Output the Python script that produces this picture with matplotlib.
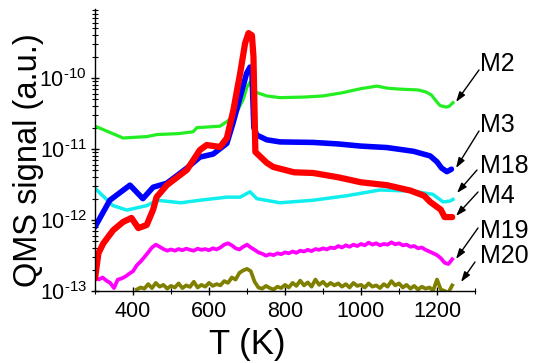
import matplotlib
matplotlib.use("Agg")
import matplotlib.pyplot as plt
from matplotlib.ticker import MultipleLocator, LogLocator, FixedLocator, FuncFormatter
import math

plt.rcParams['font.family'] = ['Liberation Sans', 'DejaVu Sans']
plt.rcParams['mathtext.fontset'] = 'custom'
plt.rcParams['mathtext.rm'] = 'Liberation Sans'
plt.rcParams['mathtext.it'] = 'Liberation Sans:italic'
plt.rcParams['mathtext.bf'] = 'Liberation Sans:bold'

# ---------------- data ----------------
T_m2 = [300, 330, 374, 437, 463, 520, 558, 568, 629, 650, 673, 690, 700, 708, 716, 752, 787,
        850, 900, 950, 1000, 1042, 1070, 1100, 1150, 1170, 1185, 1197, 1208, 1224, 1232, 1242]
m2 = [2.1e-11, 1.8e-11, 1.43e-11, 1.5e-11, 1.6e-11, 1.65e-11, 1.75e-11, 2.0e-11, 2.1e-11, 2.5e-11,
      3.3e-11, 5.0e-11, 7.5e-11, 8.8e-11, 6.5e-11, 5.6e-11, 5.3e-11,
      5.4e-11, 5.6e-11, 6.2e-11, 7.1e-11, 7.7e-11, 7.2e-11, 7.0e-11, 6.8e-11, 6.4e-11, 5.8e-11,
      4.8e-11, 4.1e-11, 3.9e-11, 4.0e-11, 4.5e-11]

T_m3 = [300, 339, 392, 426, 453, 489, 542, 576, 611, 647, 663, 682, 699, 708, 713, 718, 726, 752,
        787, 874, 940, 1000, 1068, 1138, 1182, 1200, 1212, 1226, 1238]
m3 = [8.0e-13, 1.9e-12, 3.1e-12, 2.0e-12, 2.9e-12, 3.3e-12, 5.4e-12, 7.7e-12, 8.5e-12, 1.2e-11,
      2.3e-11, 5.4e-11, 1.17e-10, 1.43e-10, 1.2e-10, 2.0e-11, 1.57e-11, 1.35e-11,
      1.26e-11, 1.24e-11, 1.18e-11, 1.1e-11, 1.05e-11, 9.3e-12, 8.0e-12, 6.6e-12, 5.4e-12, 4.8e-12, 5.2e-12]

T_m4 = [300, 309, 322, 348, 374, 396, 414, 436, 453, 462, 489, 542, 576, 594, 629, 647, 664, 682,
        695, 704, 713, 717, 722, 752, 769, 824, 874, 940, 1000, 1068, 1130, 1166, 1182, 1210, 1220, 1240]
m4 = [1.5e-13, 3.4e-13, 4.7e-13, 7.2e-13, 9.4e-13, 1.07e-12, 7.7e-13, 8.5e-13, 1.4e-12, 2.1e-12,
      3.1e-12, 5.1e-12, 9.7e-12, 1.14e-11, 1.07e-11, 1.43e-11, 3.5e-11, 1.17e-10,
      3.1e-10, 4.3e-10, 4.0e-10, 2.0e-10, 9.1e-12, 6.4e-12, 5.6e-12, 4.7e-12, 4.6e-12, 4.0e-12,
      3.4e-12, 3.1e-12, 2.6e-12, 2.2e-12, 1.8e-12, 1.4e-12, 1.1e-12, 1.1e-12]

T_m18 = [300, 347, 384, 437, 463, 526, 576, 647, 682, 708, 726, 787, 874, 963, 1050, 1137, 1189,
         1216, 1234, 1242]
m18 = [2.8e-12, 1.6e-12, 1.38e-12, 1.6e-12, 1.9e-12, 1.75e-12, 1.9e-12, 2.1e-12, 2.1e-12, 2.5e-12,
       2.0e-12, 1.75e-12, 1.9e-12, 2.2e-12, 2.65e-12, 2.55e-12, 2.3e-12, 1.8e-12, 1.85e-12, 1.95e-12]

T_m19 = [300, 310, 320, 330, 340, 350, 360, 370, 380, 390, 400, 410, 420, 430, 440, 450, 460, 470,
         480, 490, 500, 510, 520, 530, 540, 550, 560, 570, 580, 590, 600, 610, 620, 630, 640, 650,
         660, 670, 680, 690, 700, 710, 720, 730, 740, 750, 760, 770, 780, 790, 800, 810, 820, 830,
         840, 850, 860, 870, 880, 890, 900, 910, 920, 930, 940, 950, 960, 970, 980, 990, 1000, 1010,
         1020, 1030, 1040, 1050, 1060, 1070, 1080, 1090, 1100, 1110, 1120, 1130, 1140, 1150, 1160,
         1170, 1180, 1190, 1200, 1210, 1220, 1230, 1240]
m19 = [1.60e-13, 1.45e-13, 1.55e-13, 1.40e-13, 1.30e-13, 1.10e-13, 1.45e-13, 1.50e-13, 1.60e-13,
       1.75e-13, 1.90e-13, 2.30e-13, 2.60e-13, 3.00e-13, 3.50e-13, 4.10e-13, 4.50e-13, 4.20e-13,
       3.90e-13, 3.70e-13, 3.85e-13, 3.70e-13, 3.90e-13, 3.75e-13, 3.95e-13, 3.80e-13, 3.70e-13,
       3.95e-13, 3.80e-13, 3.90e-13, 3.75e-13, 4.00e-13, 3.85e-13, 4.10e-13, 4.50e-13, 4.70e-13,
       4.40e-13, 4.00e-13, 3.85e-13, 4.20e-13, 4.50e-13, 4.10e-13, 3.80e-13, 3.50e-13, 3.35e-13,
       3.15e-13, 3.30e-13, 3.20e-13, 3.40e-13, 3.30e-13, 3.50e-13, 3.40e-13, 3.60e-13, 3.45e-13,
       3.70e-13, 3.60e-13, 3.80e-13, 3.65e-13, 3.90e-13, 3.80e-13, 4.00e-13, 3.85e-13, 4.10e-13,
       4.00e-13, 4.30e-13, 4.10e-13, 4.40e-13, 4.20e-13, 4.50e-13, 4.30e-13, 4.60e-13, 4.40e-13,
       4.80e-13, 4.50e-13, 4.70e-13, 4.40e-13, 4.60e-13, 4.50e-13, 4.85e-13, 4.55e-13, 4.70e-13,
       4.40e-13, 4.50e-13, 4.20e-13, 4.30e-13, 4.00e-13, 4.10e-13, 3.80e-13, 3.60e-13, 3.40e-13,
       3.20e-13, 2.90e-13, 2.50e-13, 2.40e-13, 2.80e-13]

T_m20 = [410, 420, 430, 440, 450, 460, 470, 480, 490, 500, 510, 520, 530, 540, 550, 560, 570, 580,
         590, 600, 610, 620, 630, 640, 650, 660, 670, 680, 690, 700, 710, 720, 730, 740, 750, 760,
         770, 780, 790, 800, 810, 820, 830, 840, 850, 860, 870, 880, 890, 900, 910, 920, 930, 940,
         950, 960, 970, 980, 990, 1000, 1010, 1020, 1030, 1040, 1050, 1060, 1070, 1080, 1090, 1100,
         1110, 1120, 1130, 1140, 1150, 1160, 1170, 1180, 1190, 1200, 1210, 1220, 1230, 1240]
m20 = [1.05e-13, 1.12e-13, 1.08e-13, 1.25e-13, 1.10e-13, 1.30e-13, 1.15e-13, 1.22e-13, 1.08e-13,
       1.18e-13, 1.12e-13, 1.28e-13, 1.10e-13, 1.20e-13, 1.14e-13, 1.35e-13, 1.12e-13, 1.22e-13,
       1.15e-13, 1.30e-13, 1.18e-13, 1.25e-13, 1.20e-13, 1.38e-13, 1.30e-13, 1.55e-13, 1.45e-13,
       1.80e-13, 1.95e-13, 2.05e-13, 1.90e-13, 1.35e-13, 1.12e-13, 1.08e-13, 1.18e-13, 1.10e-13,
       1.05e-13, 1.15e-13, 1.10e-13, 1.22e-13, 1.12e-13, 1.30e-13, 1.18e-13, 1.40e-13, 1.20e-13,
       1.32e-13, 1.15e-13, 1.45e-13, 1.22e-13, 1.35e-13, 1.18e-13, 1.30e-13, 1.20e-13, 1.28e-13,
       1.15e-13, 1.25e-13, 1.12e-13, 1.30e-13, 1.18e-13, 1.22e-13, 1.12e-13, 1.28e-13, 1.15e-13,
       1.20e-13, 1.10e-13, 1.25e-13, 1.15e-13, 1.38e-13, 1.20e-13, 1.28e-13, 1.12e-13, 1.22e-13,
       1.08e-13, 1.18e-13, 1.05e-13, 1.15e-13, 1.08e-13, 1.12e-13, 1.02e-13, 1.45e-13, 1.05e-13,
       1.00e-13, 0.95e-13, 1.20e-13]

labels = ["M2", "M3", "M18", "M4", "M19", "M20"]
xticks = [400, 600, 800, 1000, 1200]
yticks = [1e-13, 1e-12, 1e-11, 1e-10]

# ---------------- plot ----------------
W, H = 534, 363
fig = plt.figure(figsize=(W / 100, H / 100), dpi=100)
ax = fig.add_axes([95 / W, 72 / H, 380 / W, 282 / H])

ax.plot(T_m2, m2, color='#22ee22', lw=2.3, solid_joinstyle='round')
ax.plot(T_m18, m18, color='#11eeee', lw=2.5, solid_joinstyle='round')
ax.plot(T_m19, m19, color='#ff00ff', lw=2.7, solid_joinstyle='round')
ax.plot(T_m20, m20, color='#808000', lw=2.7, solid_joinstyle='round')
ax.plot(T_m3, m3, color='#0000ff', lw=4.0, solid_joinstyle='round', solid_capstyle='round')
ax.plot(T_m4, m4, color='#ff0000', lw=4.5, solid_joinstyle='round', solid_capstyle='round')

ax.set_yscale('log')
ax.set_xlim(300, 1300)
ax.set_ylim(1e-13, 9.4e-10)
ax.set_xticks(xticks)
ax.xaxis.set_minor_locator(MultipleLocator(100))
ax.yaxis.set_major_locator(FixedLocator(yticks))
ax.yaxis.set_minor_locator(LogLocator(base=10, subs=range(2, 10), numticks=10))
ax.yaxis.set_major_formatter(FuncFormatter(
    lambda v, p: r'$10^{\text{-%d}}$' % round(-math.log10(v))))

for s in ['top', 'right']:
    ax.spines[s].set_visible(False)
for s in ['left', 'bottom']:
    ax.spines[s].set_linewidth(1.0)

ax.tick_params(axis='both', which='major', labelsize=15.5, direction='inout', length=6, width=1, pad=3)
ax.tick_params(axis='x', which='major', pad=4)
ax.tick_params(axis='both', which='minor', direction='inout', length=4, width=0.8)

ax.set_xlabel("T (K)", fontsize=25)
ax.xaxis.set_label_coords(0.40, -0.19, transform=ax.transAxes)
ax.xaxis.label.set_va('center')
ax.set_ylabel("QMS signal (a.u.)", fontsize=23.5)
ax.yaxis.set_label_coords(-0.175, 0.465, transform=ax.transAxes)
ax.yaxis.label.set_va('center')

# annotation geometry in figure pixels (from top-left of the picture)
text_xy = [(480, 71), (480, 132), (480, 173), (480, 203), (480, 238), (480, 263)]
arrow_from = [(479, 70), (479, 131), (477, 170), (478, 192), (478, 228), (475, 262)]
arrow_to = [(456, 102), (456, 168), (457, 193), (456, 216), (456, 259), (461, 282)]
for lab, tp, a0, a1 in zip(labels, text_xy, arrow_from, arrow_to):
    fig.text(tp[0] / W, 1 - tp[1] / H, lab, fontsize=18, ha='left', va='baseline')
    ax.annotate('', xy=(a1[0], H - a1[1]), xycoords='figure pixels',
                xytext=(a0[0], H - a0[1]), textcoords='figure pixels', annotation_clip=False,
                arrowprops=dict(arrowstyle='-|>,head_length=0.6,head_width=0.2', mutation_scale=10,
                                color='black', lw=1.0, shrinkA=0, shrinkB=0))

fig.savefig("out.png", dpi=100)
